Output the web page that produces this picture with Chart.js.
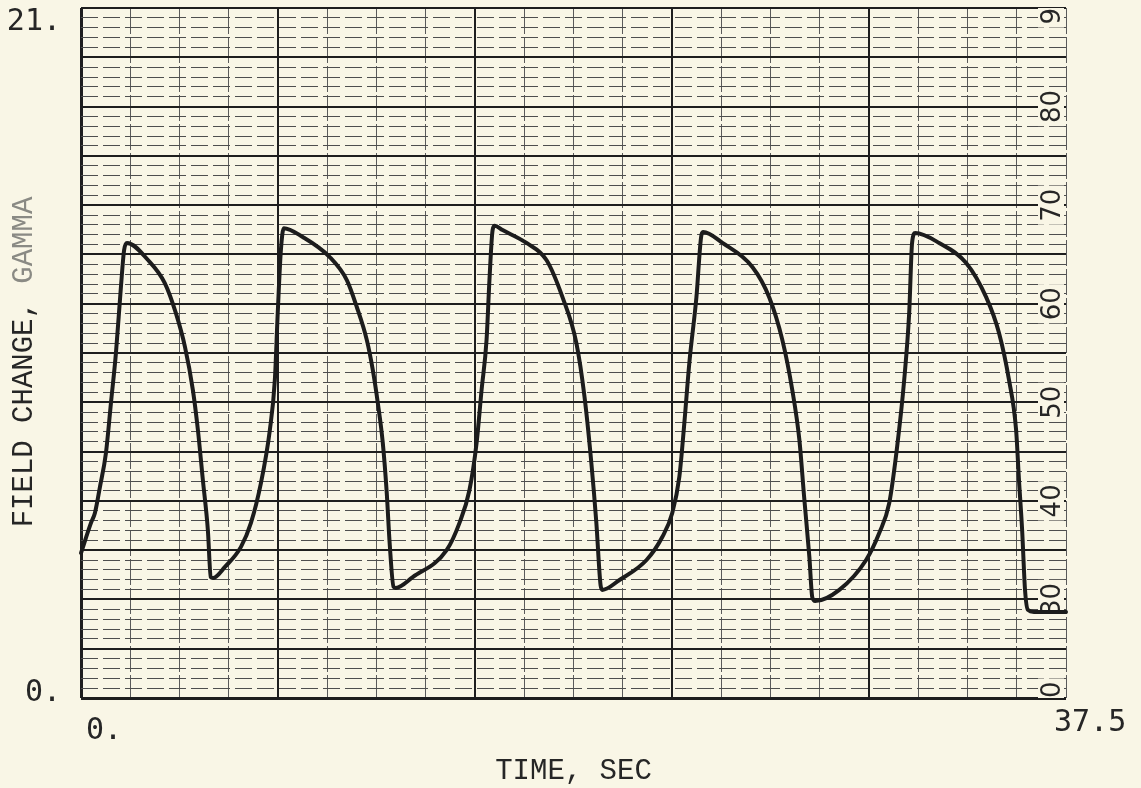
<!DOCTYPE html>
<html>
<head>
<meta charset="utf-8">
<script src="https://cdn.jsdelivr.net/npm/chart.js@4/dist/chart.umd.min.js"></script>
<style>
  html, body { margin: 0; padding: 0; background: #f9f6e6; }
  #wrap { width: 1141px; height: 788px; }
</style>
</head>
<body>
<div id="wrap"><canvas id="c" width="1141" height="788"></canvas></div>
<script>
// Recorder trace: time (seconds) and field change (gamma)
const timeSec = [
  0, 0.38, 0.53, 0.72, 0.95, 1.14, 1.33, 1.52, 1.64, 1.75,
  2.55, 3.19, 3.61, 3.96, 4.26, 4.45, 4.64, 4.83, 4.94, 5.02,
  5.48, 6.09, 6.47, 6.85, 7.19, 7.38, 7.49, 7.61, 7.72,
  8.44, 9.47, 10.12, 10.50, 10.88, 11.11, 11.30, 11.49, 11.64, 11.75, 11.90, 11.98,
  12.63, 13.92, 14.41, 14.79, 15.06, 15.25, 15.44, 15.55, 15.67, 15.75,
  16.05, 16.96, 17.72, 18.33, 18.86, 19.17, 19.43, 19.62, 19.78, 19.85,
  20.50, 21.53, 22.13, 22.51, 22.78, 22.97, 23.16, 23.43, 23.62, 23.69,
  24.42, 25.56, 26.20, 26.70, 27.08, 27.35, 27.53, 27.73, 27.84, 27.95,
  28.87, 29.89, 30.39, 30.77, 31.07, 31.34, 31.53, 31.64, 31.76,
  32.67, 33.70, 34.46, 34.95, 35.33, 35.60, 35.71, 35.83, 35.94, 36.05, 36.28, 37.5
];
const fieldGamma = [
  4.41, 5.33, 5.63, 6.42, 7.46, 8.98, 10.50, 12.51, 13.63, 13.85,
  13.33, 12.63, 11.72, 10.68, 9.37, 8.16, 6.63, 5.11, 3.68, 3.65,
  3.99, 4.60, 5.33, 6.54, 8.16, 9.68, 11.72, 13.63, 14.30,
  14.03, 13.42, 12.72, 11.90, 10.90, 9.98, 8.98, 7.76, 6.24, 4.72, 3.38, 3.35,
  3.68, 4.50, 5.33, 6.33, 7.76, 9.37, 10.90, 12.72, 14.24, 14.37,
  14.24, 13.85, 13.33, 12.20, 10.80, 9.16, 7.15, 5.33, 3.44, 3.29,
  3.59, 4.20, 4.90, 5.63, 6.73, 8.37, 10.20, 12.20, 14.09, 14.18,
  13.85, 13.12, 12.20, 10.90, 9.37, 7.85, 6.12, 4.29, 3.07, 2.95,
  3.29, 4.20, 5.02, 5.93, 7.64, 9.68, 11.72, 13.85, 14.15,
  13.85, 13.24, 12.20, 11.11, 9.68, 8.16, 6.63, 5.11, 3.29, 2.68, 2.62, 2.62
];

// Axis ranges and end labels
const xRange = [0, 37.5];
const yRange = [0, 21];
const xTickLabels = ['0.', '37.5'];
const yTickLabels = ['0.', '21.'];

// Chart-paper divisions
const xMinorStep = 1.875;   // 4 minors per major (7.5 s)
const yMinorStep = 0.3;     // 5 minors per major (1.5 gamma)

// Printed chart-paper scale along the right edge
const paperLabelValues = [0, 3, 6, 9, 12, 15, 18, 21];
const paperLabels = ['20', '30', '40', '50', '60', '70', '80', '90'];

const points = timeSec.map((t, i) => ({ x: t, y: fieldGamma[i] }));

const INK = '#262626';
const PAPER = '#f9f6e6';

// Right-edge paper numbers, drawn over the grid but under the trace
const paperScalePlugin = {
  id: 'paperScale',
  beforeDatasetsDraw(chart) {
    const { ctx, chartArea, scales } = chart;
    ctx.save();
    ctx.beginPath();
    ctx.rect(chartArea.left, chartArea.top, chartArea.right - chartArea.left + 2, chartArea.bottom - chartArea.top);
    ctx.clip();
    ctx.font = '26px "DejaVu Sans"';
    ctx.textAlign = 'center';
    ctx.textBaseline = 'middle';
    const cx = chartArea.right - 14;
    paperLabelValues.forEach((v, i) => {
      const py = scales.y.getPixelForValue(v);
      const w = ctx.measureText(paperLabels[i]).width;
      ctx.fillStyle = PAPER;
      ctx.fillRect(chartArea.right - 28, py - w / 2 - 3, 26, w + 6);
      ctx.save();
      ctx.translate(cx, py);
      ctx.rotate(-Math.PI / 2);
      ctx.fillStyle = INK;
      ctx.fillText(paperLabels[i], 0, 1);
      ctx.restore();
    });
    ctx.restore();
  }
};

// End values and axis titles
const axisTextPlugin = {
  id: 'axisText',
  afterDraw(chart) {
    const { ctx, chartArea, scales } = chart;
    ctx.save();
    ctx.fillStyle = INK;
    ctx.font = '30px "DejaVu Sans Mono"';
    ctx.textBaseline = 'middle';

    ctx.textAlign = 'right';
    ctx.fillText(yTickLabels[1], chartArea.left - 20, scales.y.getPixelForValue(yRange[1]) + 14);
    ctx.fillText(yTickLabels[0], chartArea.left - 20, scales.y.getPixelForValue(yRange[0]) - 5);

    ctx.textAlign = 'left';
    ctx.fillText(xTickLabels[0], scales.x.getPixelForValue(xRange[0]) + 5, chartArea.bottom + 33);
    ctx.fillText(xTickLabels[1], scales.x.getPixelForValue(xRange[1]) - 12, chartArea.bottom + 25);

    ctx.font = '29px "Liberation Mono"';
    ctx.textAlign = 'center';
    ctx.fillText('TIME, SEC', (chartArea.left + chartArea.right) / 2 + 0, 771);

    ctx.translate(24, 362);
    ctx.rotate(-Math.PI / 2);
    const t1 = 'FIELD CHANGE, ';
    const t2 = 'GAMMA';
    const w1 = ctx.measureText(t1).width;
    const w2 = ctx.measureText(t2).width;
    ctx.textAlign = 'left';
    const start = -(w1 + w2) / 2;
    ctx.fillText(t1, start, 0);
    ctx.fillStyle = '#8a8a84';
    ctx.fillText(t2, start + w1, 0);
    ctx.restore();
  }
};

new Chart(document.getElementById('c'), {
  type: 'scatter',
  data: {
    datasets: [{
      data: points,
      showLine: true,
      borderColor: '#1c1c1c',
      borderWidth: 4,
      pointRadius: 0,
      cubicInterpolationMode: 'monotone',
      borderJoinStyle: 'round',
      borderCapStyle: 'round',
      clip: 4
    }]
  },
  options: {
    responsive: false,
    animation: false,
    devicePixelRatio: 1,
    layout: { padding: { left: 81, top: 8, right: 75, bottom: 90 } },
    plugins: { legend: { display: false }, tooltip: { enabled: false } },
    scales: {
      x: {
        type: 'linear',
        min: xRange[0],
        max: xRange[1],
        afterBuildTicks(scale) {
          const n = Math.round((xRange[1] - xRange[0]) / xMinorStep);
          scale.ticks = Array.from({ length: n + 1 }, (_, i) => ({ value: i * xMinorStep }));
        },
        ticks: { display: false },
        grid: {
          drawTicks: false,
          lineWidth: (c) => c.index === 0 ? 3 : (c.index === 20 ? 1 : (c.index % 4 === 0 ? 2 : 1)),
          color: (c) => c.index % 4 === 0 && c.index !== 20 ? '#1e1e1e' : '#5a5a5a'
        },
        border: {
          display: false,
          dash: (c) => (c.index % 4 === 0 && c.index !== 20) ? [] : [26, 3]
        }
      },
      y: {
        type: 'linear',
        min: yRange[0],
        max: yRange[1],
        afterBuildTicks(scale) {
          const n = Math.round((yRange[1] - yRange[0]) / yMinorStep);
          scale.ticks = Array.from({ length: n + 1 }, (_, i) => ({ value: i * 3 / 10 }));
        },
        ticks: { display: false },
        grid: {
          drawTicks: false,
          lineWidth: (c) => c.index === 0 ? 3 : (c.index % 5 === 0 ? 2 : 1),
          color: (c) => c.index % 5 === 0 ? '#1e1e1e' : '#4e4e4e'
        },
        border: {
          display: false,
          dash: (c) => c.index % 5 === 0 ? [] : [17, 5]
        }
      }
    }
  },
  plugins: [paperScalePlugin, axisTextPlugin]
});
</script>
</body>
</html>
